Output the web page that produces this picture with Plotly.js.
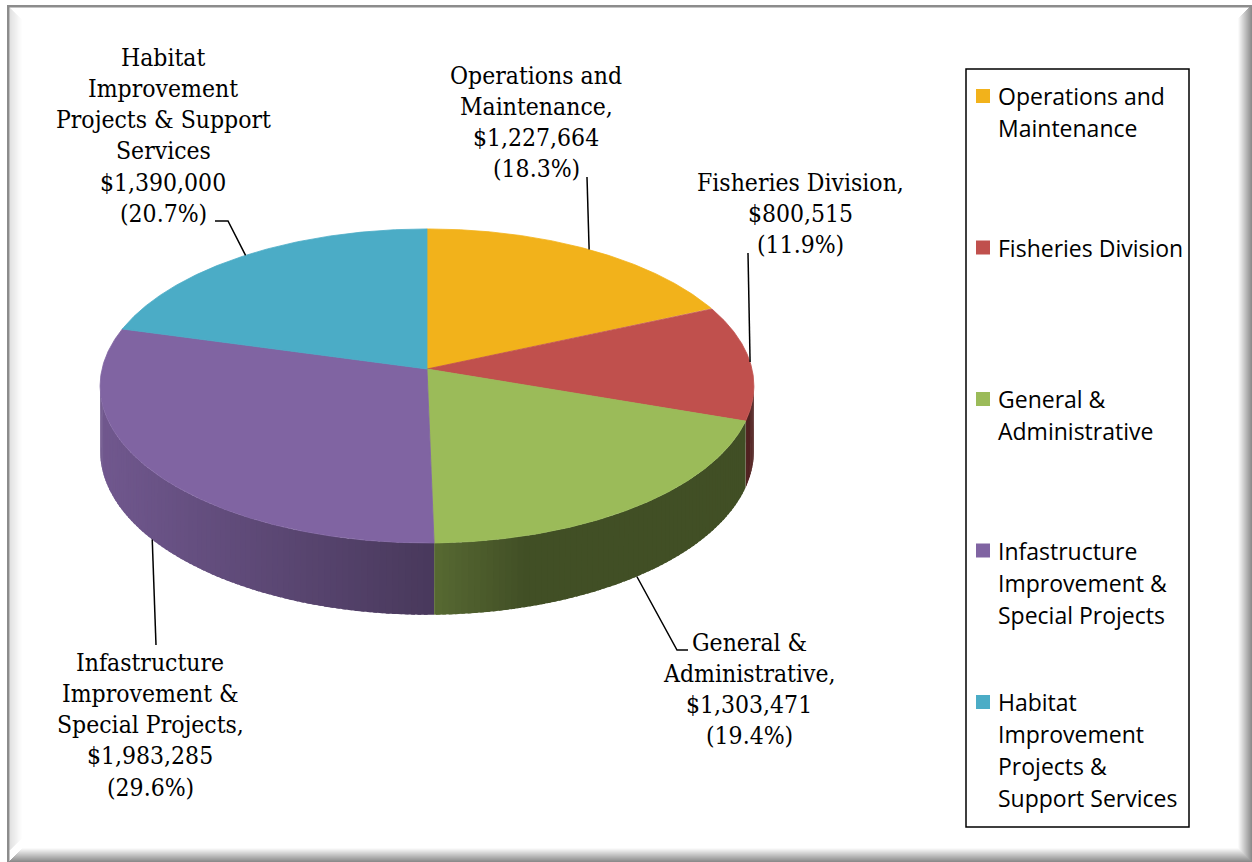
<!DOCTYPE html>
<html><head><meta charset="utf-8">
<script src="https://cdn.plot.ly/plotly-3.0.1.min.js"></script>
<style>html,body{margin:0;padding:0;background:#fff;overflow:hidden}#chart{width:1252px;height:862px}</style>
</head><body><div id="chart"></div>
<script>
// ---------- data ----------
const categories = ["Operations and Maintenance","Fisheries Division","General & Administrative","Infastructure Improvement & Special Projects","Habitat Improvement Projects & Support Services"];
const values = [1227664, 800515, 1303471, 1983285, 1390000];
const colors = ["#F2B21B","#C0504D","#9BBB59","#8064A2","#4BACC6"];
const labelNameLines = [["Operations and","Maintenance,"],["Fisheries Division,"],["General &","Administrative,"],["Infastructure","Improvement &","Special Projects,"],["Habitat","Improvement","Projects & Support","Services"]];
const legendLines = [["Operations and","Maintenance"],["Fisheries Division"],["General &","Administrative"],["Infastructure","Improvement &","Special Projects"],["Habitat","Improvement","Projects &","Support Services"]];

// ---------- layout constants ----------
const CX=427, CY=369, W=325, H=155.2, K=-0.108, DEPTH=64;
const labelPos = [{x:536,y:75},{x:800,y:182},{x:749,y:642},{x:150,y:662},{x:163,y:57}];
const leaderEnds = [[[587,177]],[[748,253]],[[677,650],[688,650]],[[156,645]],[[228,221],[215,221]]];
const LABEL_FONT = {family:"'DejaVu Serif Condensed','DejaVu Serif',serif", size:24.5, color:"#000"};
const LEGEND_FONT = {family:"'Open Sans',sans-serif", size:23, color:"#000"};

function proj(theta){
  const t=theta*Math.PI/180, u=Math.sin(t), v=-Math.cos(t), d=1+K*v;
  return {x:CX+W*u/d, y:CY+H*v/d, dep:DEPTH/d};
}
// silhouette angles
let thR=90, thL=270, mx=-1e9, mn=1e9;
for(let a=0;a<360;a+=0.1){const p=proj(a); if(p.x>mx){mx=p.x;thR=a;} if(p.x<mn){mn=p.x;thL=a;}}

const total = values.reduce((a,b)=>a+b,0);
const starts=[], ends=[];
let acc=0;
values.forEach(v=>{starts.push(acc/total*360); acc+=v; ends.push(acc/total*360);});

function hexToRgb(h){return [parseInt(h.slice(1,3),16),parseInt(h.slice(3,5),16),parseInt(h.slice(5,7),16)];}
function shadeFactor(x){
  if(x<=100) return 0.88;
  if(x<=433) return 0.88-(x-100)/333*0.31;
  if(x<=530) return 0.57-(x-433)/97*0.15;
  return 0.42;
}
function shade(hex,f){const c=hexToRgb(hex).map(v=>Math.round(v*f));return `rgb(${c[0]},${c[1]},${c[2]})`;}

const traces=[];
// side walls (front half only), split into small shaded pieces that overlap slightly
values.forEach((v,i)=>{
  const lo=Math.max(starts[i],thR), hi=Math.min(ends[i],thL);
  if(hi<=lo) return;
  const step=1;
  for(let a=hi;a>lo+1e-9;a-=step){
    const b=Math.max(a-step,lo);
    const a2=Math.min(a+0.7,hi);
    const xs=[],ys=[];
    for(let t=b;t<=a2+1e-9;t+=0.2){const p=proj(Math.min(t,a2));xs.push(p.x);ys.push(p.y);}
    for(let t=a2;t>=b-1e-9;t-=0.2){const p=proj(Math.max(t,b));xs.push(p.x);ys.push(p.y+p.dep);}
    const mid=proj((a+b)/2);
    const col=shade(colors[i],shadeFactor(mid.x));
    traces.push({type:'scatter',mode:'lines',x:xs,y:ys,fill:'toself',fillcolor:col,line:{width:0},hoverinfo:'skip',showlegend:false});
  }
});
// tops
values.forEach((v,i)=>{
  const xs=[CX],ys=[CY];
  for(let t=starts[i];t<=ends[i]+1e-9;t+=0.25){const p=proj(Math.min(t,ends[i]));xs.push(p.x);ys.push(p.y);}
  const pe=proj(ends[i]); xs.push(pe.x); ys.push(pe.y);
  xs.push(CX); ys.push(CY);
  traces.push({type:'scatter',mode:'lines',x:xs,y:ys,fill:'toself',fillcolor:colors[i],line:{color:colors[i],width:0.8},hoverinfo:'skip',showlegend:false,name:categories[i]});
});
// leader lines
values.forEach((v,i)=>{
  const mid=(starts[i]+ends[i])/2, p=proj(mid);
  const front = mid>thR && mid<thL;
  const ax=p.x, ay= front ? p.y+p.dep : p.y;
  const xs=[ax], ys=[ay];
  leaderEnds[i].forEach(q=>{xs.push(q[0]);ys.push(q[1]);});
  traces.push({type:'scatter',mode:'lines',x:xs,y:ys,line:{color:'#000',width:1.5},hoverinfo:'skip',showlegend:false});
});
// legend markers
const LEG_TOP=96, LEG_STEP=151.5, LEG_LINE=32;
traces.push({type:'scatter',mode:'markers',x:values.map(()=>983),y:values.map((v,i)=>LEG_TOP+i*LEG_STEP),
  marker:{symbol:'square',size:14,color:colors,line:{width:0}},hoverinfo:'skip',showlegend:false});

// annotations
const annotations=[];
function fmtMoney(v){return '$'+v.toLocaleString('en-US');}
values.forEach((v,i)=>{
  const lines=labelNameLines[i].concat([fmtMoney(v),'('+(v/total*100).toFixed(1)+'%)']);
  lines.forEach((t,j)=>annotations.push({x:labelPos[i].x,y:labelPos[i].y+j*31.3,xref:'x',yref:'y',text:t,showarrow:false,xanchor:'center',yanchor:'middle',font:LABEL_FONT}));
  legendLines[i].forEach((t,j)=>annotations.push({x:996,y:LEG_TOP+i*LEG_STEP+j*LEG_LINE,xref:'x',yref:'y',text:t,showarrow:false,xanchor:'left',yanchor:'middle',font:LEGEND_FONT}));
});

// frame shapes
const shapes=[];
shapes.push({type:'rect',xref:'x',yref:'y',x0:966,x1:1189,y0:69,y1:827,line:{color:'#000',width:1.5},fillcolor:'rgba(0,0,0,0)'});
shapes.push({type:'rect',xref:'x',yref:'y',x0:7,x1:1252,y0:5,y1:7.5,line:{width:0},fillcolor:'#8c8c8c'});
shapes.push({type:'rect',xref:'x',yref:'y',x0:7,x1:9.5,y0:5,y1:862,line:{width:0},fillcolor:'#8c8c8c'});
for(let k=0;k<12;k++){
  const g=Math.round(215+k*(255-215)/12);
  shapes.push({type:'rect',xref:'x',yref:'y',x0:9.5+k,x1:10.5+k,y0:8+k,y1:850-k,line:{width:0},fillcolor:`rgb(${g},${g},${g})`,layer:'below'});
}
for(let k=0;k<14;k++){
  const g=Math.round(250-k*(250-140)/13);
  shapes.push({type:'rect',xref:'x',yref:'y',x0:1238+k,x1:1239+k,y0:18-k,y1:862,line:{width:0},fillcolor:`rgb(${g},${g},${g})`,layer:'below'});
  shapes.push({type:'rect',xref:'x',yref:'y',x0:22-k,x1:1252,y0:848+k,y1:849+k,line:{width:0},fillcolor:`rgb(${g},${g},${g})`,layer:'below'});
}

const layout={width:1252,height:862,margin:{l:0,r:0,t:0,b:0,pad:0},paper_bgcolor:'#fff',plot_bgcolor:'#fff',
  xaxis:{range:[0,1252],visible:false,fixedrange:true,domain:[0,1]},
  yaxis:{range:[862,0],visible:false,fixedrange:true,domain:[0,1]},
  showlegend:false,annotations,shapes,hovermode:false};
Plotly.newPlot('chart',traces,layout,{displayModeBar:false,staticPlot:true});
</script></body></html>
